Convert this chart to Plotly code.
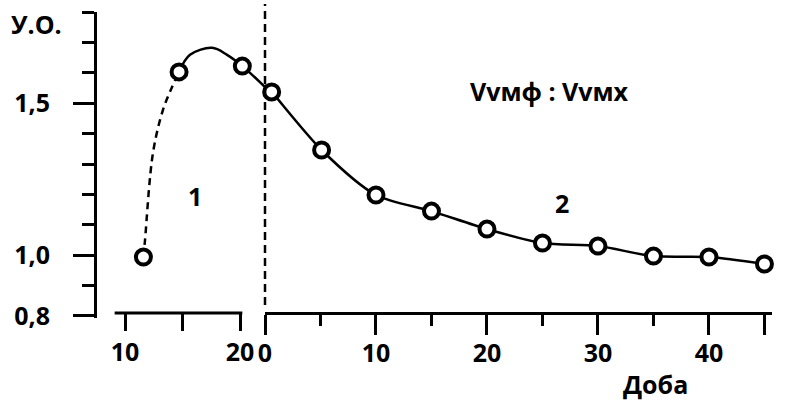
import plotly.graph_objects as go

# ---- data ----
# panel 1 (left, days 10..20)
p1_mark_x = [11.6, 14.7, 20.2]
p1_mark_y = [0.994, 1.603, 1.622]
p1_dash_x = [11.6, 11.74, 12.43, 13.3, 14.09, 14.7]
p1_dash_y = [0.994, 1.05, 1.336, 1.478, 1.553, 1.603]
p1_line_x = [14.7, 15.65, 17.57, 18.87, 20.2, 22.17]
p1_line_y = [1.603, 1.659, 1.682, 1.659, 1.622, 1.553]

# panel 2 (right, days 0..45)
p2_x = [0.6, 5.1, 10, 15, 20, 25, 30, 35, 40, 45]
p2_y = [1.537, 1.346, 1.198, 1.145, 1.086, 1.040, 1.030, 0.997, 0.994, 0.971]
p2_line_x = [0.0] + p2_x
p2_line_y = [1.56] + p2_y

y_major = [0.8, 1.0, 1.5]
y_major_text = ["0,8", "1,0", "1,5"]
y_minor = [0.9, 1.1, 1.2, 1.3, 1.4, 1.6, 1.7, 1.8]
x1_ticks = [10, 15, 20]
x1_text = ["10", "", "20"]
x2_ticks = [0, 10, 20, 30, 40, 45]
x2_text = ["0", "10", "20", "30", "40", ""]
x2_minor = [5, 15, 25, 35]

FONT = "Open Sans"
BLACK = "#000000"

fig = go.Figure()

fig.add_trace(go.Scatter(x=p1_dash_x, y=p1_dash_y, mode="lines",
                         line=dict(color=BLACK, width=2.5, dash="7px,5px", shape="spline"),
                         xaxis="x", yaxis="y", hoverinfo="skip"))
fig.add_trace(go.Scatter(x=p1_line_x, y=p1_line_y, mode="lines",
                         line=dict(color=BLACK, width=2.5, shape="spline"),
                         xaxis="x", yaxis="y", hoverinfo="skip"))
fig.add_trace(go.Scatter(x=p2_line_x, y=p2_line_y, mode="lines",
                         line=dict(color=BLACK, width=2.5, shape="spline", smoothing=0.8),
                         xaxis="x2", yaxis="y", hoverinfo="skip"))
fig.add_trace(go.Scatter(x=p1_mark_x, y=p1_mark_y, mode="markers",
                         marker=dict(size=15, color="white", line=dict(color=BLACK, width=4)),
                         xaxis="x", yaxis="y", cliponaxis=False))
fig.add_trace(go.Scatter(x=p2_x, y=p2_y, mode="markers",
                         marker=dict(size=15, color="white", line=dict(color=BLACK, width=4)),
                         xaxis="x2", yaxis="y", cliponaxis=False))

pos = 5 / 306
split = (265 - 97) / 675

fig.update_layout(
    width=788, height=404,
    margin=dict(l=97, r=16, t=12, b=86),
    paper_bgcolor="white", plot_bgcolor="white",
    showlegend=False,
    font=dict(family=FONT, color=BLACK, size=24, weight="bold"),
    xaxis=dict(domain=[0, split], range=[7.565, 22.17], showline=False,
               showgrid=False, zeroline=False,
               tickmode="array", tickvals=x1_ticks, ticktext=x1_text,
               ticks="outside", ticklen=17, tickwidth=3, tickcolor=BLACK,
               anchor="free", position=pos, ticklabelstandoff=0,
               tickfont=dict(family=FONT, size=25, color=BLACK, weight="bold")),
    xaxis2=dict(domain=[split, 1], range=[0, 45.68], showline=True,
                linewidth=3, linecolor=BLACK,
                showgrid=False, zeroline=False,
                tickmode="array", tickvals=x2_ticks, ticktext=x2_text,
                ticks="outside", ticklen=20, tickwidth=3, tickcolor=BLACK,
                minor=dict(tickmode="array", tickvals=x2_minor, ticks="outside",
                           ticklen=11, tickwidth=3, tickcolor=BLACK),
                anchor="free", position=pos, ticklabelstandoff=-3,
                tickfont=dict(family=FONT, size=25, color=BLACK, weight="bold")),
    yaxis=dict(range=[0.7934, 1.8], showline=True, linewidth=3, linecolor=BLACK,
               showgrid=False, zeroline=False, anchor="x",
               tickmode="array", tickvals=y_major, ticktext=y_major_text,
               ticks="outside", ticklen=21, tickwidth=3, tickcolor=BLACK,
               minor=dict(tickmode="array", tickvals=y_minor, ticks="outside",
                          ticklen=12, tickwidth=3, tickcolor=BLACK),
               ticklabelstandoff=18,
               tickfont=dict(family=FONT, size=25, color=BLACK, weight="bold")),
)

# left x-axis baseline (broken axis segment)
fig.add_shape(type="line", xref="x", yref="paper", x0=9.1, x1=20.2, y0=pos, y1=pos,
              line=dict(color=BLACK, width=3))
# vertical dashed separator at day 0 of panel 2 (paper x = start of panel 2)
fig.add_shape(type="line", xref="paper", yref="paper", x0=split, x1=split,
              y0=(318 - 305) / 306, y1=(318 - 4) / 306,
              line=dict(color=BLACK, width=2.5, dash="8px,5px"))

fig.add_annotation(text="У.О.", xref="paper", yref="paper", x=(36 - 97) / 675,
                   y=(318 - 24) / 306, showarrow=False, xanchor="center", yanchor="middle",
                   font=dict(family=FONT, size=25, color=BLACK, weight="bold"))
fig.add_annotation(text="1", xref="x", yref="y", x=16.1, y=1.195, showarrow=False,
                   font=dict(family=FONT, size=25, color=BLACK, weight="bold"))
fig.add_annotation(text="2", xref="x2", yref="y", x=26.8, y=1.172, showarrow=False,
                   font=dict(family=FONT, size=25, color=BLACK, weight="bold"))
fig.add_annotation(text="Vvмф : Vvмх", xref="x2", yref="y", x=25.6, y=1.54, showarrow=False,
                   xanchor="center", yanchor="middle",
                   font=dict(family=FONT, size=25, color=BLACK, weight="bold"))
fig.add_annotation(text="Доба", xref="x2", yref="paper", x=35.2, y=(318 - 384) / 306,
                   showarrow=False, xanchor="center", yanchor="middle",
                   font=dict(family=FONT, size=25, color=BLACK, weight="bold"))

fig.write_html("out.html")
